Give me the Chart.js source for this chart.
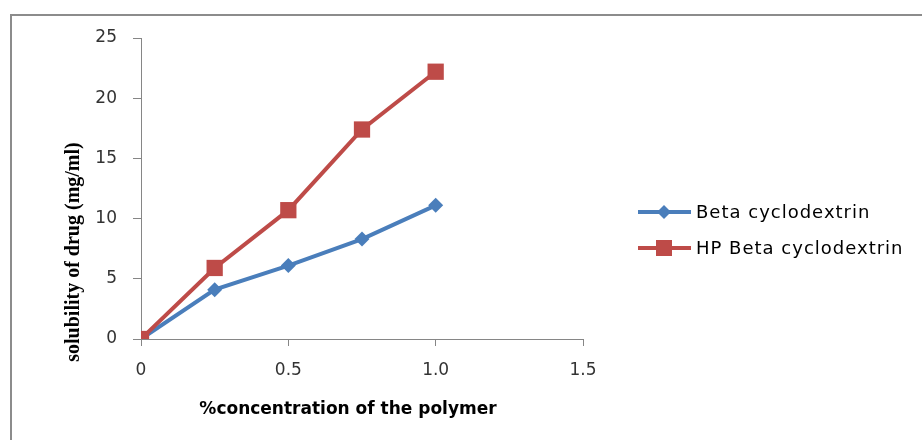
<!DOCTYPE html>
<html>
<head>
<meta charset="utf-8">
<title>Solubility of drug</title>
<script src="https://cdn.jsdelivr.net/npm/chart.js@4.4.1/dist/chart.umd.min.js"></script>
<style>
    html, body { margin: 0; padding: 0; background: #fff; }
    #wrap { width: 922px; height: 440px; position: relative; }
</style>
</head>
<body>
<div id="wrap"><canvas id="lineChart" width="922" height="440"></canvas></div>
<script>
// values
const concentrations = [0, 0.25, 0.5, 0.75, 1];
const betaCD = [0, 4.1, 6.1, 8.3, 11.1];
const hpBetaCD = [0, 5.9, 10.7, 17.4, 22.2];
const xTicks = [0, 0.5, 1, 1.5];
const yTicks = [0, 5, 10, 15, 20, 25];
const seriesNames = ['Beta cyclodextrin', 'HP Beta cyclodextrin'];

const blue = '#4a7ebb';
const red = '#be4b48';
const axisGray = '#868686';

// frame, axis titles and the legend on the right
const decorations = {
    id: 'decorations',
    beforeDraw(chart) {
        const ctx = chart.ctx;
        ctx.save();
        ctx.strokeStyle = '#8c8c8c';
        ctx.lineWidth = 2;
        ctx.strokeRect(11, 15, 930, 440);
        ctx.restore();
    },
    afterDraw(chart) {
        const ctx = chart.ctx;
        ctx.save();
        ctx.fillStyle = '#000';
        ctx.textAlign = 'center';
        ctx.textBaseline = 'middle';

        // x title
        ctx.font = 'bold 17px "DejaVu Sans"';
        ctx.fillText('%concentration of the polymer', 348, 410);

        // y title
        ctx.save();
        ctx.translate(74, 252);
        ctx.rotate(-Math.PI / 2);
        ctx.font = 'bold 20px "Liberation Serif"';
        ctx.fillText('solubility of drug (mg/ml)', 0, 0);
        ctx.restore();

        // legend
        const rows = [212, 248];
        chart.data.datasets.forEach((ds, i) => {
            const y = rows[i];
            ctx.strokeStyle = ds.borderColor;
            ctx.lineWidth = 4;
            ctx.beginPath();
            ctx.moveTo(638, y);
            ctx.lineTo(691, y);
            ctx.stroke();
            ctx.fillStyle = ds.backgroundColor;
            const cx = 664;
            if (ds.pointStyle === 'rectRot') {
                ctx.beginPath();
                ctx.moveTo(cx - 7, y);
                ctx.lineTo(cx, y - 7);
                ctx.lineTo(cx + 7, y);
                ctx.lineTo(cx, y + 7);
                ctx.closePath();
                ctx.fill();
            } else {
                ctx.fillRect(cx - 8, y - 8, 16, 16);
            }
            ctx.fillStyle = '#000';
            ctx.textAlign = 'left';
            ctx.font = '18px "DejaVu Sans"';
            ctx.letterSpacing = '1px';
            ctx.fillText(seriesNames[i], 696, y + 1);
            ctx.letterSpacing = '0px';
        });
        ctx.restore();
    }
};

const ctx = document.getElementById('lineChart').getContext('2d');
const lineChart = new Chart(ctx, {
    type: 'line',
    data: {
        datasets: [{
            label: seriesNames[0],
            data: concentrations.map((c, i) => ({ x: c, y: betaCD[i] })),
            borderColor: blue,
            backgroundColor: blue,
            borderWidth: 4,
            pointStyle: 'rectRot',
            pointRadius: 7.5,
            pointBorderWidth: 0,
            tension: 0,
            order: 1
        }, {
            label: seriesNames[1],
            data: concentrations.map((c, i) => ({ x: c, y: hpBetaCD[i] })),
            borderColor: red,
            backgroundColor: red,
            borderWidth: 4,
            pointStyle: 'rect',
            pointRadius: 11.5,
            pointBorderWidth: 0,
            tension: 0,
            order: 0
        }]
    },
    options: {
        responsive: false,
        animation: false,
        layout: {
            padding: { left: 0, top: 38, right: 339, bottom: 0 }
        },
        plugins: {
            legend: { display: false },
            tooltip: { enabled: false }
        },
        scales: {
            x: {
                type: 'linear',
                min: 0,
                max: 1.5,
                afterBuildTicks: scale => { scale.ticks = xTicks.map(v => ({ value: v })); },
                afterFit: scale => { scale.height = 101; },
                grid: {
                    drawOnChartArea: false,
                    tickLength: 7,
                    color: axisGray
                },
                border: { color: axisGray },
                ticks: {
                    color: '#333',
                    padding: 14,
                    font: { family: 'DejaVu Sans', size: 17 },
                    maxRotation: 0
                }
            },
            y: {
                min: 0,
                max: 25,
                afterBuildTicks: scale => { scale.ticks = yTicks.map(v => ({ value: v })); },
                afterFit: scale => { scale.width = 141; },
                grid: {
                    drawOnChartArea: false,
                    tickLength: 8,
                    color: axisGray
                },
                border: { color: axisGray },
                ticks: {
                    color: '#333',
                    padding: 16,
                    font: { family: 'DejaVu Sans', size: 17 }
                }
            }
        }
    },
    plugins: [decorations]
});
</script>
</body>
</html>
